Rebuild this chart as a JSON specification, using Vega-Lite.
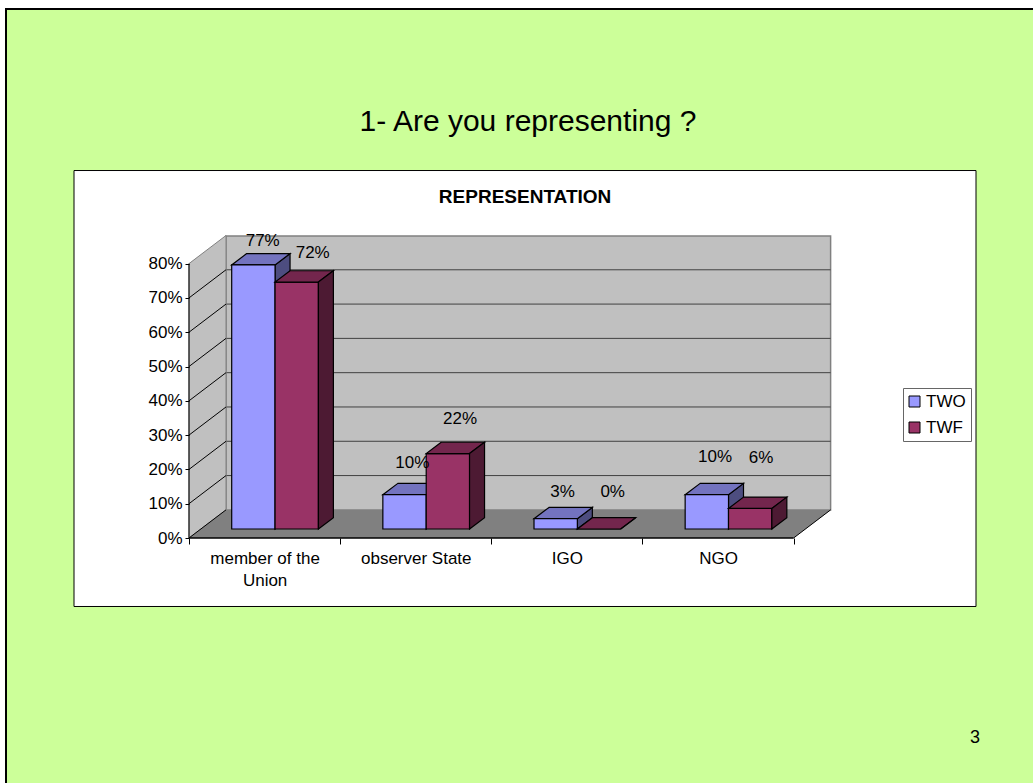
{
"$schema":"https://vega.github.io/schema/vega-lite/v6.json",
"width":642,"height":302,
"autosize":{"type":"none"},
"padding":{"left":189,"top":236,"right":202,"bottom":245},
"background":"white",
"config":{"font":"Liberation Sans","view":{"stroke":null},"text":{"font":"Liberation Sans"},"axis":{"labelOverlap":false,"labelSeparation":0}},
"title":{"text":"1- Are you representing ?","fontSize":30,"fontWeight":"normal","font":"Liberation Sans","color":"black","anchor":"middle","frame":"group","dx":18,"offset":-129},
"data":{"values":[
{"category":"member of the Union","series":"TWO","value":77},
{"category":"member of the Union","series":"TWF","value":72},
{"category":"observer State","series":"TWO","value":10},
{"category":"observer State","series":"TWF","value":22},
{"category":"IGO","series":"TWO","value":3},
{"category":"IGO","series":"TWF","value":0},
{"category":"NGO","series":"TWO","value":10},
{"category":"NGO","series":"TWF","value":6}
]},
"transform":[
{"calculate":"indexof(['member of the Union','observer State','IGO','NGO'],datum.category)","as":"idx"},
{"calculate":"datum.idx+(datum.series==='TWO'?0.2825:0.5693)","as":"x0"},
{"calculate":"datum.x0+0.2868","as":"x1"},
{"calculate":"2.62","as":"base"}
],
"layer":[
{"data":{"values":[{}]},"mark":{"type":"rect","fill":"#CCFF99","stroke":"black","strokeWidth":2},
"encoding":{
"x":{"datum":-1.2107,"type":"quantitative","scale":{"domain":[0,4.2474],"nice":false,"zero":false}},
"x2":{"datum":5.63},
"y":{"datum":154.2,"type":"quantitative","scale":{"domain":[0,88.05],"nice":false,"zero":false}},
"y2":{"datum":-73.5}}},
{"data":{"values":[{}]},"mark":{"type":"rect","fill":"white","stroke":"black","strokeWidth":1},
"encoding":{
"x":{"datum":-0.7608,"type":"quantitative","scale":{"domain":[0,4.2474],"nice":false,"zero":false}},
"x2":{"datum":5.2068},
"y":{"datum":107.14,"type":"quantitative","scale":{"domain":[0,88.05],"nice":false,"zero":false}},
"y2":{"datum":-19.97}}},
{"data":{"values":[{}]},"mark":{"type":"rect","fill":"#C0C0C0","stroke":"#808080","strokeWidth":1.5},
"encoding":{
"x":{"datum":0.2448,"type":"quantitative","scale":{"domain":[0,4.2474],"nice":false,"zero":false}},
"x2":{"datum":4.2448},
"y":{"datum":8.2,"type":"quantitative","scale":{"domain":[0,88.05],"nice":false,"zero":false}},
"y2":{"datum":88.05}}},
{"data":{"values":[{"v":10},{"v":20},{"v":30},{"v":40},{"v":50},{"v":60},{"v":70}]},
"transform":[{"calculate":"datum.v+8.2","as":"vb"}],
"mark":{"type":"rule","stroke":"#404040","strokeWidth":1},
"encoding":{
"x":{"datum":0.2448,"type":"quantitative","scale":{"domain":[0,4.2474],"nice":false,"zero":false}},
"x2":{"datum":4.2448},
"y":{"field":"vb","type":"quantitative","scale":{"domain":[0,88.05],"nice":false,"zero":false}}}},
{"data":{"values":[{"t":0},{"t":1}]},
"transform":[{"calculate":"datum.t*0.2448","as":"wx"},{"calculate":"datum.t*8.2","as":"wb"},{"calculate":"80+datum.t*8.2","as":"wt"}],
"mark":{"type":"area","orient":"vertical","fill":"#C0C0C0","stroke":"#808080","strokeWidth":1},
"encoding":{
"x":{"field":"wx","type":"quantitative","scale":{"domain":[0,4.2474],"nice":false,"zero":false}},
"y":{"field":"wt","type":"quantitative","stack":null,"scale":{"domain":[0,88.05],"nice":false,"zero":false}},
"y2":{"field":"wb"}}},
{"data":{"values":[{"t":0},{"t":1}]},
"transform":[{"calculate":"datum.t*0.2448","as":"fx"},{"calculate":"4+datum.t*0.2448","as":"fx2"},{"calculate":"datum.t*8.2","as":"fy"}],
"mark":{"type":"area","orient":"horizontal","fill":"#808080"},
"encoding":{
"x":{"field":"fx","type":"quantitative","stack":null,"scale":{"domain":[0,4.2474],"nice":false,"zero":false}},
"x2":{"field":"fx2"},
"y":{"field":"fy","type":"quantitative","scale":{"domain":[0,88.05],"nice":false,"zero":false}}}},
{"data":{"values":[{"v":0},{"v":10},{"v":20},{"v":30},{"v":40},{"v":50},{"v":60},{"v":70}]},
"transform":[{"calculate":"datum.v+8.2","as":"vb"}],
"mark":{"type":"rule","stroke":"black","strokeWidth":1},
"encoding":{
"x":{"datum":0,"type":"quantitative","scale":{"domain":[0,4.2474],"nice":false,"zero":false}},
"x2":{"datum":0.2448},
"y":{"field":"v","type":"quantitative","scale":{"domain":[0,88.05],"nice":false,"zero":false}},
"y2":{"field":"vb"}}},
{"data":{"values":[{}]},"mark":{"type":"rule","stroke":"black","strokeWidth":1},
"encoding":{
"x":{"datum":4,"type":"quantitative","scale":{"domain":[0,4.2474],"nice":false,"zero":false}},
"x2":{"datum":4.2448},
"y":{"datum":0,"type":"quantitative","scale":{"domain":[0,88.05],"nice":false,"zero":false}},
"y2":{"datum":8.2}}},
{"data":{"values":[{}]},"mark":{"type":"rule","stroke":"black","strokeWidth":1.5},
"encoding":{
"x":{"datum":0,"type":"quantitative","scale":{"domain":[0,4.2474],"nice":false,"zero":false}},
"x2":{"datum":4},
"y":{"datum":0,"type":"quantitative","scale":{"domain":[0,88.05],"nice":false,"zero":false}}}},
{"data":{"values":[{}]},"mark":{"type":"rule","stroke":"black","strokeWidth":1},
"encoding":{
"x":{"datum":0,"type":"quantitative","scale":{"domain":[0,4.2474],"nice":false,"zero":false}},
"y":{"datum":0,"type":"quantitative","scale":{"domain":[0,88.05],"nice":false,"zero":false}},
"y2":{"datum":80}}},
{"transform":[{"filter":"datum.series==='TWO'"},{"calculate":"[0,1]","as":"t"},{"flatten":["t"]},{"calculate":"datum.x1+datum.t*0.0992","as":"sx"},{"calculate":"datum.value+2.62+datum.t*3.3","as":"st"},{"calculate":"datum.base+datum.t*3.3","as":"sb"}],
"mark":{"type":"area","orient":"vertical","fill":"#4D4D80","stroke":"black","strokeWidth":1.2},
"encoding":{
"x":{"field":"sx","type":"quantitative","scale":{"domain":[0,4.2474],"nice":false,"zero":false}},
"y":{"field":"st","type":"quantitative","stack":null,"scale":{"domain":[0,88.05],"nice":false,"zero":false}},
"y2":{"field":"sb"},
"detail":{"field":"category"}}},
{"transform":[{"filter":"datum.series==='TWO'"},{"calculate":"[0,1]","as":"t"},{"flatten":["t"]},{"calculate":"datum.x0+datum.t*0.0992","as":"tx0"},{"calculate":"datum.x1+datum.t*0.0992","as":"tx1"},{"calculate":"datum.value+2.62+datum.t*3.3","as":"ty"}],
"mark":{"type":"area","orient":"horizontal","fill":"#7373BF","stroke":"black","strokeWidth":1.2},
"encoding":{
"x":{"field":"tx0","type":"quantitative","stack":null,"scale":{"domain":[0,4.2474],"nice":false,"zero":false}},
"x2":{"field":"tx1"},
"y":{"field":"ty","type":"quantitative","scale":{"domain":[0,88.05],"nice":false,"zero":false}},
"detail":{"field":"category"}}},
{"transform":[{"calculate":"datum.value+datum.base","as":"top"}],
"mark":{"type":"rect","stroke":"black","strokeWidth":1.2},
"encoding":{
"x":{"field":"x0","type":"quantitative","scale":{"domain":[0,4.2474],"nice":false,"zero":false},
"axis":{"title":null,"values":[0,1,2,3,4],"labelExpr":"datum.value==0?['member of the','Union']:['','observer State','IGO','NGO',''][datum.value]","labelOffset":75.6,"labelOverlap":false,"labelBound":false,"labelFlush":false,"labelFontSize":17,"labelColor":"black","labelPadding":6,"labelLineHeight":22,"labelBaseline":"top","tickSize":6,"tickColor":"black","domain":false,"grid":false,"zindex":1}},
"x2":{"field":"x1"},
"y":{"field":"top","type":"quantitative","scale":{"domain":[0,88.05],"nice":false,"zero":false},
"axis":{"title":null,"values":[0,10,20,30,40,50,60,70,80],"tickCount":9,"labelExpr":"datum.value+'%'","labelOverlap":false,"labelFontSize":17,"labelColor":"black","labelPadding":3,"tickSize":4,"tickColor":"black","domain":false,"grid":false,"zindex":1}},
"y2":{"field":"base"},
"color":{"field":"series","type":"nominal","scale":{"domain":["TWO","TWF"],"range":["#9999FF","#993366"]},
"legend":{"title":null,"orient":"none","legendX":714,"legendY":152,"fillColor":"white","strokeColor":"#666666","padding":5,"rowPadding":8,"symbolType":"square","symbolSize":121,"symbolStrokeColor":"black","symbolStrokeWidth":1,"symbolOpacity":1,"symbolOffset":-2,"labelFontSize":17,"labelColor":"black","labelOffset":3}}}},
{"transform":[{"filter":"datum.series==='TWF'"},{"calculate":"[0,1]","as":"t"},{"flatten":["t"]},{"calculate":"datum.x0+datum.t*0.0992","as":"tx0"},{"calculate":"datum.x1+datum.t*0.0992","as":"tx1"},{"calculate":"datum.value+2.62+datum.t*3.3","as":"ty"}],
"mark":{"type":"area","orient":"horizontal","fill":"#73264D","stroke":"black","strokeWidth":1.2},
"encoding":{
"x":{"field":"tx0","type":"quantitative","stack":null,"scale":{"domain":[0,4.2474],"nice":false,"zero":false}},
"x2":{"field":"tx1"},
"y":{"field":"ty","type":"quantitative","scale":{"domain":[0,88.05],"nice":false,"zero":false}},
"detail":{"field":"category"}}},
{"transform":[{"filter":"datum.series==='TWF'"},{"calculate":"[0,1]","as":"t"},{"flatten":["t"]},{"calculate":"datum.x1+datum.t*0.0992","as":"sx"},{"calculate":"datum.value+2.62+datum.t*3.3","as":"st"},{"calculate":"datum.base+datum.t*3.3","as":"sb"}],
"mark":{"type":"area","orient":"vertical","fill":"#4D1A33","stroke":"black","strokeWidth":1.2},
"encoding":{
"x":{"field":"sx","type":"quantitative","scale":{"domain":[0,4.2474],"nice":false,"zero":false}},
"y":{"field":"st","type":"quantitative","stack":null,"scale":{"domain":[0,88.05],"nice":false,"zero":false}},
"y2":{"field":"sb"},
"detail":{"field":"category"}}},
{"transform":[
{"calculate":"datum.idx*2+(datum.series==='TWO'?0:1)","as":"k"},
{"calculate":"[0.4876,0.8184,1.4774,1.793,2.472,2.803,3.48,3.784][datum.k]","as":"lx"},
{"calculate":"[86.5,83.2,21.8,34.7,13.4,13.4,23.5,23.3][datum.k]","as":"ly"},
{"calculate":"datum.value+'%'","as":"label"}],
"mark":{"type":"text","fontSize":17,"font":"Liberation Sans","color":"black","align":"center","baseline":"middle"},
"encoding":{
"x":{"field":"lx","type":"quantitative","scale":{"domain":[0,4.2474],"nice":false,"zero":false}},
"y":{"field":"ly","type":"quantitative","scale":{"domain":[0,88.05],"nice":false,"zero":false}},
"text":{"field":"label"}}},
{"data":{"values":[{"t":"REPRESENTATION"}]},
"mark":{"type":"text","fontSize":19,"fontWeight":"bold","font":"Liberation Sans","color":"black","align":"center","baseline":"middle"},
"encoding":{
"x":{"datum":2.2233,"type":"quantitative","scale":{"domain":[0,4.2474],"nice":false,"zero":false}},
"y":{"datum":99.4,"type":"quantitative","scale":{"domain":[0,88.05],"nice":false,"zero":false}},
"text":{"field":"t"}}},
{"data":{"values":[{"t":"3"}]},
"mark":{"type":"text","fontSize":18,"font":"Liberation Sans","color":"black","align":"center","baseline":"middle"},
"encoding":{
"x":{"datum":5.2,"type":"quantitative","scale":{"domain":[0,4.2474],"nice":false,"zero":false}},
"y":{"datum":-58.3,"type":"quantitative","scale":{"domain":[0,88.05],"nice":false,"zero":false}},
"text":{"field":"t"}}}
]
}
